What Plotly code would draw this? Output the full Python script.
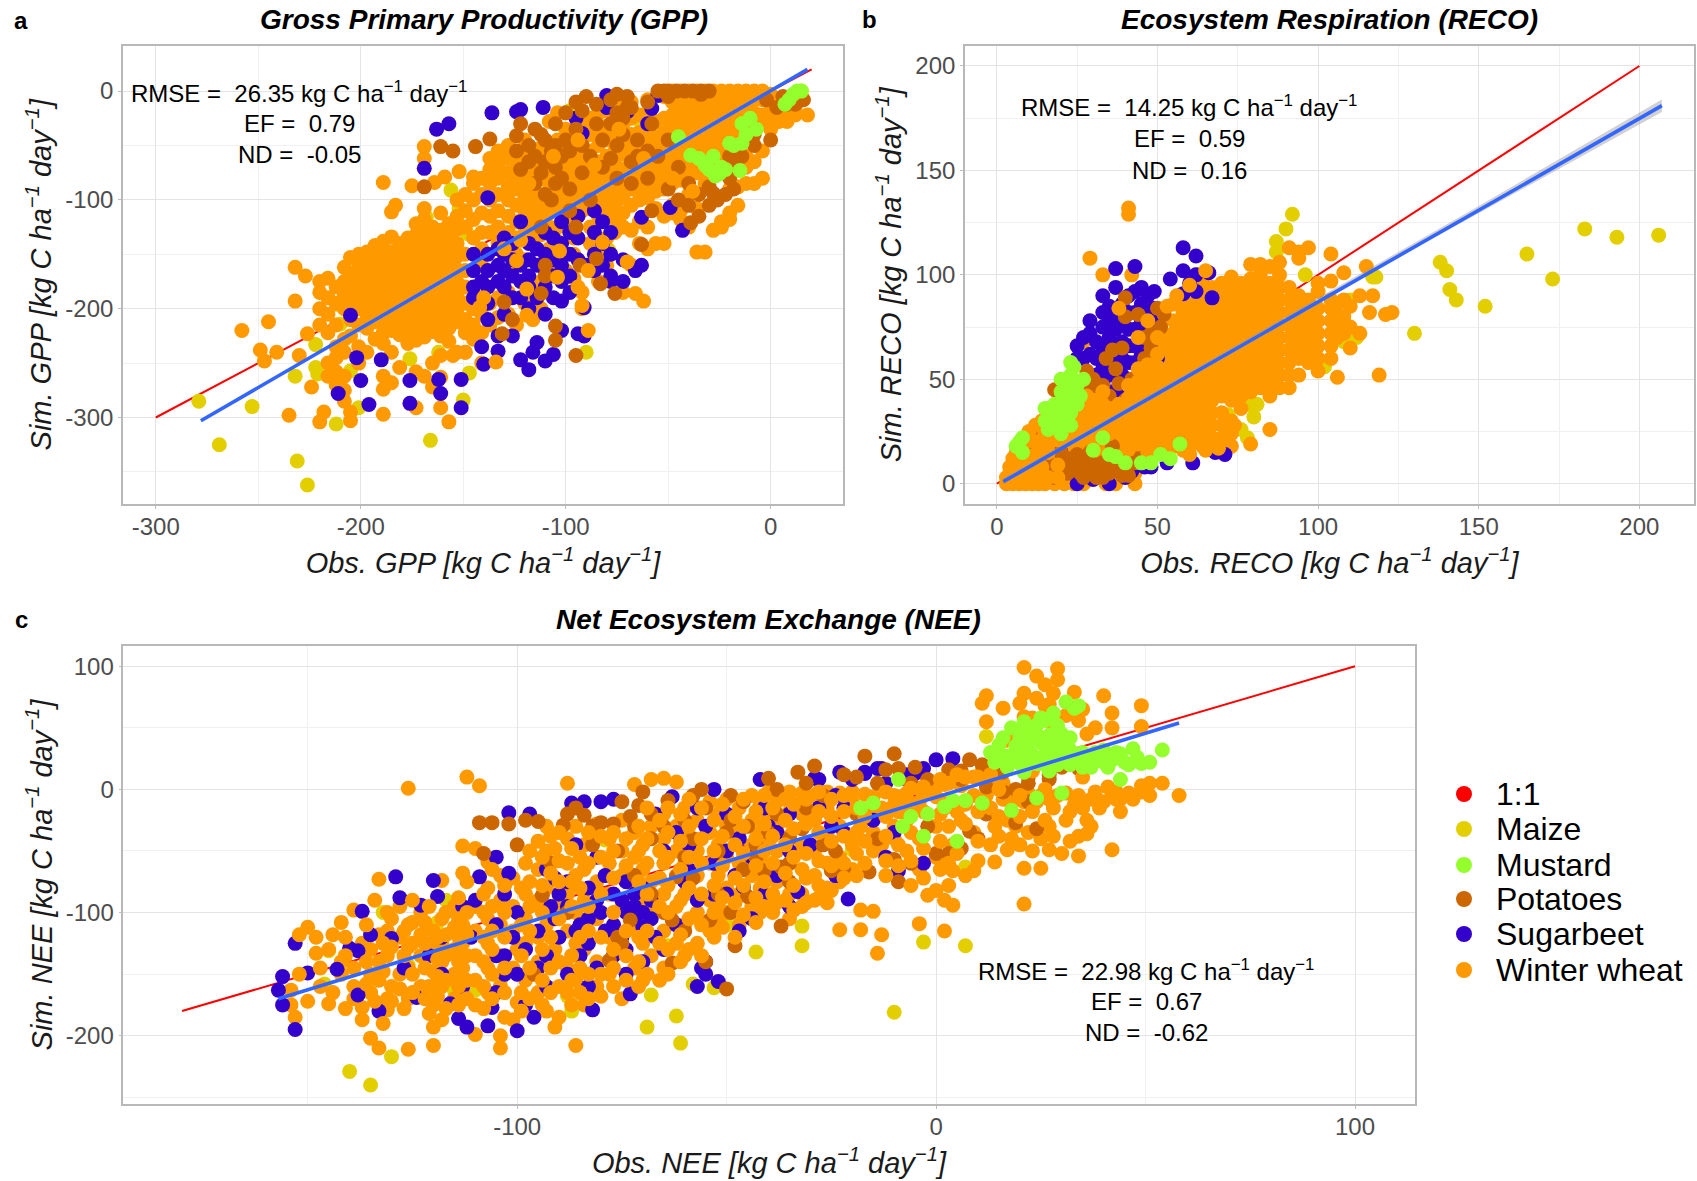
import plotly.graph_objects as go

W, H = 1697, 1181
FONT = "Liberation Sans"
COL = {"1:1": "#FF0000", "Maize": "#E3CF00", "Mustard": "#94FF2C", "Potatoes": "#CC6600",
       "Sugarbeet": "#3300CC", "Winter wheat": "#FF9900"}
LEGEND = ["1:1", "Maize", "Mustard", "Potatoes", "Sugarbeet", "Winter wheat"]

# ---------- Panel a: GPP, {obs: [sim, ...]} ----------
a_maize = {-279:[-285],-269:[-325],-253:[-290],-232:[-262],-231:[-340],-226:[-362],-222:[-233,-254],-221:[-260],-212:[-306,-196],-210:[-214],
           -205:[-257],-201:[-291],-197:[-163],-184:[-177],-176:[-246],-168:[-116],-166:[-321],-162:[-240],-156:[-91],-152:[-108],-150:[-284],
           -148:[-131],-147:[-259],-98:[-18],-90:[-240],-88:[-27],-79:[-146],-63:[-30],15:[0]}
a_mustard = {-45:[-42],-39:[-59],-35:[-62],-32:[-68],-30:[-72],-28:[-60],-27:[-78],-25:[-76],-24:[-70],-22:[-72],-20:[-48],-18:[-50],-15:[-73],-14:[-48,-30],-12:[-40],-10:[-25],-7:[-35],7:[-12],9:[-8],11:[-3],13:[0],15:[0]}
a_potatoes = {-169:[-88],-161:[-51],-155:[-55],-144:[-51],-137:[-44],-131:[-223],-130:[-194],-126:[-210],-124:[-41,-55],-122:[-30,-72],-118:[-50,-65],-115:[-35,-60,-85],-112:[-186,-40,-75,-125],
              -110:[-160,-170,-45,-65,-95],-107:[-55,-100],-105:[-216,-229,-30,-50,-70,-85],-102:[-60,-80],-100:[-20,-45],-98:[-55,-90,-110],-95:[-243,-10,-35,-125],-93:[-160],-92:[-18,-50,-75],-90:[-5],
              -88:[-60,-100],-85:[-154,-12,-30],-83:[-177],-82:[-45,-70],-78:[-8,-30,-62],-76:[-186],-75:[-3,-20,-50,-80],-72:[-25,-40],-70:[-5,-15],-68:[-15,-65,-85],-65:[-45,-60],-63:[-141],-60:[-10,-55,-80],
              -58:[-110,-30],-55:[0,-60],-52:[0],-50:[0,-5,-45,-90],-46:[0],-45:[-70,-100],-42:[0],-40:[-85,-105],-39:[-121],-38:[0],-35:[-95,-115],-34:[0,-3],-30:[0,-88,-105],-28:[-94],-26:[-100],-22:[-95],
              -20:[-60,-80],-18:[-90,-70],-14:[-60],-10:[-40],-8:[-40,-50],-2:[-8],0:[-45],3:[-15],6:[-5],8:[-12,-8],11:[-8],12:[-12],16:[-8]}
a_sugarbeet = {-211:[-278],-205:[-206],-202:[-245],-200:[-266],-196:[-288],-190:[-247],-176:[-266,-287],-169:[-71],-163:[-35],-162:[-265],-161:[-278],-157:[-30],
               -151:[-265,-291],-145:[-150,-165,-180,-190],-141:[-175,-235],-140:[-251],-138:[-98,-150,-165,-180,-195,-210],-136:[-20],-133:[-145,-160,-175,-225,-239],
               -130:[-135,-150,-165,-180,-205],-126:[-140,-155,-170,-190,-225],-124:[-19],-122:[-17,-120,-160,-175,-190,-247],-118:[-140,-155,-170,-180,-200,-256],-116:[-240],
               -114:[-145,-160,-190,-231],-111:[-15],-110:[-130,-150,-165,-180,-205,-248],-106:[-135,-155,-170,-190,-242],-102:[-120,-140,-160,-175,-193,-220],
               -98:[-130,-150,-170,-185],-95:[-25],-94:[-223,-115,-135,-155],-92:[-39],-91:[-199,-225],-90:[-160],-86:[-110,-130,-150,-165],-82:[-120,-140,-160],-80:[-4,-15],
               -78:[-130,-150,-170,-175],-72:[-155,-175],-70:[-19],-66:[-165],-63:[-160,-116],-60:[-30],-58:[-16],-55:[-4],-49:[-107],-43:[-128]}
a_wheat = {-258:[-220],-249:[-238],-247:[-248],-245:[-212],-241:[-240],-235:[-298],-232:[-162,-193],-230:[-243],-227:[-170],-226:[-223],-224:[-272],-220:[-175,-185,-200,-215,-304],
           -218:[-295],-216:[-172,-190,-205,-222,-250,-262],-212:[-180,-195,-215,-235,-245,-258,-270],-208:[-162,-175,-188,-200,-228,-240,-262,-275,-285],
           -205:[-153,-168,-182,-195,-210,-225,-295,-303],-201:[-150,-162,-175,-188,-200,-215,-235,-250],-197:[-148,-158,-170,-180,-192,-205,-218,-240],
           -193:[-142,-152,-165,-176,-188,-200,-212,-228],-189:[-84,-138,-150,-162,-174,-186,-198,-210,-222,-232,-262,-274,-297],-185:[-111,-134,-148,-160,-172,-184,-196,-208,-220,-240,-268],
           -183:[-105],-181:[-140,-152,-164,-176,-188,-200,-212,-224,-254],-177:[-135,-148,-160,-172,-184,-196,-208,-220,-232],-175:[-87],
           -173:[-122,-132,-145,-157,-169,-181,-193,-205,-217,-229,-258,-291],-169:[-51,-62,-108,-118,-130,-142,-154,-166,-178,-190,-202,-214,-226,-262],
           -165:[-125,-137,-149,-161,-173,-185,-197,-209,-221,-250,-272],-164:[-84],-161:[-112,-128,-140,-152,-164,-176,-188,-200,-212,-225,-243,-263,-291],-159:[-79],
           -157:[-122,-134,-146,-158,-170,-182,-194,-206,-218,-230,-304],-153:[-100,-115,-127,-140,-152,-164,-176,-188,-200,-212,-240],-152:[-74],
           -149:[-95,-110,-125,-150,-165,-180,-195,-210,-222,-240],-145:[-79,-85,-100,-118,-135,-200,-215,-228],-141:[-80,-95,-112,-130,-145,-160,-190,-205,-222,-250],
           -137:[-62,-72,-85,-100,-115,-130,-195,-215],-133:[-55,-68,-80,-95,-110,-125,-140,-190,-208],-128:[-50,-62,-75,-88,-100,-115,-130,-165,-185,-205],
           -124:[-65,-78,-90,-105,-120,-135,-150,-215],-120:[-45,-58,-72,-85,-98,-110,-125,-155,-175,-195],-116:[-75,-88,-100,-112,-122,-135,-185,-210],
           -112:[-52,-65,-80,-95,-108,-120,-132,-175,-200],-108:[-28,-60,-72,-85,-98,-112,-125,-145,-165],-104:[-20,-45,-58,-70,-82,-95,-108,-125,-138,-170],
           -100:[-35,-50,-65,-78,-90,-102,-115,-165],-96:[-40,-55,-68,-80,-92,-105,-118,-135,-150,-172],-92:[-30,-45,-60,-72,-85,-98,-110,-185,-200],
           -88:[-25,-40,-55,-70,-82,-95,-108,-125,-140],-84:[-20,-35,-50,-65,-78,-90,-102,-115,-150,-175],-80:[-18,-32,-45,-60,-72,-85,-98,-110,-135,-160],
           -76:[-28,-42,-55,-68,-80,-92,-105,-118,-130],-72:[-15,-30,-45,-58,-72,-85,-98,-112,-125,-185],-68:[-10,-25,-40,-52,-65,-78,-90,-105,-128,-160],
           -64:[-22,-38,-50,-62,-75,-88,-100,-120,-140],-60:[-8,-20,-35,-48,-60,-72,-85,-98,-125,-145],-56:[-28,-42,-55,-68,-80,-92,-108,-140],
           -52:[-5,-25,-38,-52,-65,-78,-90,-115,-140],-48:[0,-10,-22,-35,-48,-60,-72,-85,-105,-112],-44:[0,-8,-20,-32,-45,-58,-70,-82,-110,-118],
           -40:[0,-8,-18,-30,-42,-55,-65,-78,-95,-125],-36:[0,-8,-18,-28,-40,-52,-62,-75,-108,-148],-32:[0,-8,-18,-28,-38,-50,-60,-72,-85,-148],
           -28:[0,-8,-18,-28,-38,-48,-58,-70,-128],-24:[0,-8,-18,-28,-38,-48,-58,-120,-125],-20:[0,-8,-18,-28,-38,-50,-62,-90,-112,-118],-16:[0,-8,-18,-28,-40,-88,-105],
           -12:[0,-8,-18,-30,-60,-70,-85],-8:[0,-8,-20,-38,-65,-85],-4:[0,-8,-22,-30,-55,-80],0:[-3,-12,-25,-35],4:[-12,-22,-28],8:[-18,-22,-28],12:[-15,-22],18:[-22]}
a_wheat_top = {-155:[-243],-149:[-240],-142:[-199],-140:[-190],-134:[-249],-130:[-145],-124:[-156],-122:[-137],-119:[-182,-206],-104:[-171],-103:[-147],-94:[-180,-45],-92:[-197],-89:[-165,-220],
               -82:[-139],-70:[-157],-66:[-186],-62:[-193,-62],-118:[-85],-106:[-60],-86:[-68],-74:[-35],-48:[-80],-38:[-92]}

# ---------- Panel b: RECO ----------
b_maize = {60:[18],67:[19],72:[33],76:[26],78:[38,22],80:[32],81:[82,91,38],87:[116,111],90:[122],92:[129],96:[100],102:[56],108:[68],110:[88],112:[70],117:[99],118:[99],
           130:[72],138:[106],140:[102],141:[93],143:[88],152:[85],165:[110],173:[98],183:[122],193:[118],206:[119]}
b_mustard = {6:[18],7:[20],8:[15,22],15:[30,36],16:[26,36],17:[32],18:[28,38],19:[27],20:[32,24,44,50],21:[28,36],22:[46,40],23:[58,34,28,52],24:[44,56],25:[47,38],26:[42],27:[50],30:[16],33:[22],35:[14],
             37:[13],40:[10],45:[10],48:[10],51:[14],54:[12],57:[19]}
b_potatoes = {10:[20],11:[22],14:[12],15:[5],16:[10],18:[45,3],20:[8,15],22:[5],23:[12],24:[10],25:[8,14],26:[5,42],27:[3,10],28:[54,8,46],29:[15,5,10],30:[5,44,50],31:[48,3,9],32:[38,7],33:[47,10,3],
              34:[60],35:[5,12,42],36:[64,8,18],37:[55,8],38:[37,48],39:[65,4,10],40:[40,80,89],41:[4],42:[35,44,50],43:[10],44:[81],45:[20,13],46:[60,70],48:[28,55,65,72],50:[84],51:[75],52:[81]}
b_sugarbeet = {20:[15],25:[60,66,0],27:[60,70],29:[62,72,78],30:[2,45],31:[52,60,68],33:[55,65,75,82,90,42,48],35:[0,52,60,70,78,85],36:[44],37:[58,66,74,80,94,103],38:[44],39:[52,60,68,76,86],40:[3,46],
               41:[50,58,66,74,82,90],42:[6],43:[50,58,66,74,82,92,104],44:[40],45:[46,54,62,70,78,86,94],46:[8],47:[50,58,66,74,82,90],48:[8],49:[72,78,84,92],50:[60],53:[10],54:[98],
               58:[91,102,113],60:[96],61:[10],62:[92,100,109],66:[101],67:[89],68:[15],71:[14]}
b_wheat = {3:[0,3],5:[0,6,12],7:[0,5,10,16],9:[0,5,10,15,20],11:[0,5,10,16,24],13:[0,5,11,17,26],15:[0,6,12,18,24],18:[0,6,12,18,24],21:[0,5,12,18,24,30],
           24:[0,8,14,20,26,32,40],27:[0,14,20,26,32,38,68],29:[108],31:[12,18,24,30,36,42],33:[100],34:[0,16,22,28,34,40],37:[0,5,18,24,30,36,42],40:[14,20,26,32,38,44],
           41:[132,129],42:[100],43:[0,5,16,22,28,34,40,46],46:[12,18,24,30,36,42,48,54],49:[16,22,28,34,40,46,52,60,66],52:[16,22,28,34,40,46,52,58,64,70,82],
           55:[18,24,30,36,42,48,54,60,66,72,78,86],58:[16,22,28,34,40,46,52,58,64,70,76,82,88],61:[20,26,32,38,44,50,56,62,68,74,80,86],62:[100],
           64:[18,24,30,36,42,48,54,60,66,72,78,84,90,96],67:[22,28,34,40,46,52,58,64,70,76,82,88,94],70:[22,28,34,42,48,54,60,66,72,78,84,90,96],
           73:[18,24,30,40,46,52,58,64,70,76,82,88,94,99],76:[36,42,48,54,60,66,72,78,84,90,96],79:[19,44,50,56,62,68,74,80,86,92,98,105],
           82:[46,52,58,64,70,76,82,88,94,100,105],85:[26,42,48,54,60,66,72,78,84,90,96,104],88:[46,52,58,64,70,76,82,88,94,100,106],91:[46,52,58,64,70,76,82,88,94,113],
           94:[52,60,66,72,78,84,90,108,111],97:[58,64,70,76,82,88,113],100:[54,60,66,72,78,84,92,96],104:[60,66,72,78,84,88,97,110],106:[51,70,76,80,86],108:[72,80,88,101],
           110:[65,75,85],113:[72,90],115:[104],116:[82],117:[90],119:[52],121:[81],123:[82]}
b_wheat_top = {4:[2,8],6:[3,8,15],8:[3,8,13,18],10:[3,8,13,25],12:[3,8,14,20,28],14:[3,8,21,30],16:[3,15,21,27],19:[3,9,21],22:[21,33],25:[23,29,35],28:[24,30,36,42],30:[22,28,34,40],33:[26,32,38,44],
               35:[24,30,36],38:[26,32,38,84],41:[23,29,35,41,47],44:[19,25,31,37,43,49,55,70],47:[15,21,27,33,39,45,51,57,78],50:[20,26,32,38,44,50,56,62,70],53:[14,20,26,85],56:[22,90],60:[14,18,95],65:[16,102],69:[17,20],74:[28]}

# ---------- Panel c: NEE ----------
c_maize = {-146:[-158],-145:[-131],-140:[-229],-135:[-240],-132:[-100],-130:[-217],-126:[-143],-119:[-108],-117:[-90],-115:[-163],-110:[-163],-104:[-155],-93:[-62],-90:[-87],
           -88:[-168],-87:[-180],-81:[-166],-79:[-41],-70:[-148],-69:[-193],-68:[-167],-64:[-127],-62:[-184],-61:[-206],-58:[-158],-53:[-161],-50:[-110],-43:[-132],
           -32:[-111,-127],-20:[-49],-10:[-181],-3:[-124],7:[-63,-127],12:[43]}
c_mustard = {-18:[-15],-15:[-11],-9:[8],-8:[-30],-6:[-22],-3:[-38],-2:[-20],2:[-14],4:[-9],5:[-42],7:[-9],11:[-11],13:[30],14:[22],15:[28,36],16:[42],17:[27,18],18:[-17,50],19:[35,25],20:[21,42,30],21:[48,55,14],22:[32,40,20],23:[48,28],
             24:[45,21,-7,52],25:[21,38,58],26:[56,35,28],27:[44,15],28:[45,27,38,62],29:[20,52],30:[35,-3,25,45],31:[71,28],32:[32,20,42],33:[66],34:[68,25],35:[18,30],36:[22],37:[27,18],38:[30],39:[24],40:[22,32],41:[28,18],42:[24],
             43:[30],44:[29,8],45:[22],46:[20],47:[33],48:[26],49:[21],51:[22],54:[32]}
c_potatoes = {-109:[-27],-108:[-52],-106:[-27],-102:[-28],-100:[-45],-98:[-25],-96:[-150],-95:[-26],-94:[-86],-92:[-60],-89:[-29],-88:[-20,-100],-86:[-15],-84:[-21],-82:[-45,-30],-80:[-27],-78:[-139],-77:[-28],-76:[-50,-120],-75:[-10,-125],
              -73:[-22,-106],-72:[-30,-70],-71:[-13],-70:[-2],-68:[-20,-40,-85],-65:[-30,-100],-64:[-9],-63:[-106,-141],-62:[-71],-60:[-25,-55,-115],-58:[-72,-5,-40],-56:[0],-55:[-140,-15],-54:[-106],-52:[-50,-85],-50:[-162,-35],
              -49:[-5,-100,-25],-48:[-127],-46:[-10,-65],-45:[-87,-30],-43:[-45,-55],-41:[-66],-40:[9,-35],-38:[0,-20],-37:[-111,-63],-35:[-40,-60,-75],-33:[14],-32:[-32],-31:[5,-15],-29:[19],-27:[-5,-45],-25:[-66],-24:[-50],
              -22:[-66,12],-19:[10,-20],-17:[27],-16:[-67],-14:[5,-40],-12:[16],-10:[29,-57],-9:[17,-75],-6:[5,-60],-5:[18],-2:[8,-30],0:[-52],3:[-52,-10,16],6:[-48,8,15],8:[24,-34],10:[-40],11:[20],12:[2,-20],15:[20],16:[14,-2],
              19:[0,-27],22:[10,5,-10],24:[-32],27:[8,12],30:[18],34:[17]}
c_sugarbeet = {-157:[-163],-156:[-152,-175],-153:[-125,-195],-150:[-149],-143:[-146],-140:[-129],-138:[-131,-167],-137:[-99],-135:[-118],-133:[-180],-130:[-121],-129:[-71],-128:[-88],-127:[-145],-124:[-169],
               -123:[-94],-121:[-135],-120:[-74],-119:[-87],-118:[-150,-120],-116:[-174],-114:[-186],-113:[-95,-160],-112:[-193],-111:[-120],-110:[-90],-109:[-71],-107:[-192],-106:[-177],-105:[-55,-110,-135,-165],-103:[-85,-135,-150],
               -102:[-68,-19],-101:[-120],-100:[-196,-100,-150],-98:[-130,-175],-97:[-20],-96:[-185],-95:[-115,-145],-93:[-65,-135,-160],-92:[-95],-91:[-72,-105],-90:[-85,-120],-88:[-75,-95,-150],-87:[-11],-86:[-45,-115],-85:[-110,-135],-84:[-10],
               -83:[-80,-105,-125,-160],-82:[-179],-81:[-55,-90,-145],-80:[-10,-100],-79:[-70,-115],-77:[-8,-85,-110,-135],-75:[-90,-120],-74:[-75,-100,-130,-150],-73:[-166],-72:[-85,-95,-105],-70:[-80,-100,-112,-140],-68:[-90,-105],
               -67:[-20,-120],-65:[-50,-130],-63:[-6],-62:[-35,-110],-60:[-75],-59:[-45,-65],-57:[-160,-15,-90],-56:[-145],-55:[-140,-150,-30],-53:[0,-60,-85],-52:[-156],-50:[-50,-20,-85],-48:[-70],-47:[-40,-115],-46:[-79],-44:[-55,-105],
               -42:[8],-41:[-15,-85],-40:[-30],-38:[-70,-35],-35:[-20,-50,-95],-33:[-83],-30:[-45],-29:[9],-28:[8,-15],-25:[-30],-24:[-5,-70],-23:[14],-22:[-35,-15],-21:[-89],-20:[8],-17:[14,13],-15:[-25],-14:[17],-13:[17],-12:[5,-55],
               -10:[-35],-9:[-66],-8:[9],-7:[12],-5:[13],-3:[17,-60],0:[24],4:[25]}
c_wheat = {-154:[-163,-175],-153:[-185],-150:[-112,-172],-148:[-120,-133],-145:[-130,-174],-142:[-108,-140,-150],-139:[-98,-145,-160,-170],-137:[-125,-177,-187],-135:[-130,-150,-165,-202],
           -133:[-73,-118,-140,-155,-210],-131:[-100,-115,-135,-170,-179],-128:[-95,-120,-150,-162],-126:[1,-110,-128,-145,-170,-211],-123:[-100,-118,-135,-160],
           -120:[-115,-130,-148,-175,-193,-208],-118:[-74,-105,-125,-140,-160,-187],-115:[-95,-112,-130,-150,-170],-113:[-46,-68,-110,-125,-145,-165],-110:[-48,-95,-115,-135,-155,-175,-199],
           -109:[3],-107:[-59,-80,-105,-125,-145,-165],-104:[-70,-90,-110,-135,-160,-200,-210],-112:[10],-101:[-72,-95,-115,-145,-187],-100:[-130,-173],-98:[-60,-85,-105,-125,-155],
           -95:[-42,-65,-90,-120,-140,-165],-93:[-30,-50,-80,-110,-180],-91:[-48,-95,-130,-193],-88:[5,-40,-60,-85,-115,-145,-165],-86:[-30,-70,-100,-125,-155,-208],
           -84:[-45,-65,-90,-130,-175],-81:[-28,-75,-105,-140,-160],-78:[-40,-60,-85,-120,-150],-75:[-25,-50,-70,-95,-130,-170],-72:[4,-35,-55,-80,-110,-145],-70:[-45,-65,-90,-125,-155],
           -68:[8,-30,-75,-100,-135],-65:[9,-20,-40,-60,-85,-115,-145],-62:[6,-30,-50,-70,-95,-125],-60:[-15,-40,-60,-85,-110,-135],-57:[-25,-50,-70,-100,-125],-54:[-10,-35,-60,-90,-115],
           -52:[-20,-45,-70,-95,-105],-50:[-8,-30,-55,-80,-100],-47:[-15,-35,-60,-85,-110],-44:[-5,-25,-45,-70,-95],-42:[-12,-35,-55,-80,-100],-40:[-2,-22,-42,-65,-90],
           -38:[-10,-30,-50,-75,-92],-35:[-2,-18,-38,-60,-85,-105],-32:[-3,-20,-45,-65,-85,-95],-29:[-5,-25,-50,-70,-90],-26:[-2,-15,-40,-60,-80,-92],-23:[-3,-30,-55,-75,-114],
           -20:[-2,-10,-45,-65],-18:[-30,-98,-114],-15:[-6,-20,-35,-50,-99],-14:[-133],-13:[-15,-45,-118],-10:[-5,-12,-30,-40],-7:[-3,-8,-25,-50],-4:[1,-10,-40,-65,-109],-2:[-3,-86],
           0:[2,-6,-30,-55,-82],2:[4,-15,-90,-115],4:[8,-45,-66,-94],6:[3,-25],9:[10,-5,-35,-66],11:[70,15,-10],12:[76,55,-5],14:[10,-30,-59],16:[66,5,-8],17:[40,-25,-49],19:[-2,-8,-30],
           21:[99,78,59,-10,-64,-93],22:[-3,-35],24:[92,74,-10],25:[-5,-40,-64],27:[69,-8,-30,-49],29:[98,89,-5],30:[40,-52],31:[60,-3,-25],33:[79,-12],34:[56,-5,-38,-54],36:[45,-25,-36],
           38:[50,-2],40:[76,-10],42:[62,50,-5,-49],44:[-8,-18],46:[-3],49:[68,51,3,-2],54:[5],58:[-5]}
c_wheat_top = {-152:[-118,-150],-147:[-145,-160],-144:[-118,-165],-141:[-120,-135,-178],-136:[-110,-140,-158],-134:[-90,-172],-132:[-125,-148,-190],-130:[-105,-128,-160,-172],-127:[-115,-135,-178],-125:[-90,-108,-125,-150,-165],
               -122:[-108,-125,-145,-170],-121:[-95,-160,-182],-119:[-120,-138,-152,-168],-117:[-100,-118,-135,-155,-178],-114:[-88,-105,-120,-140,-160,-175],-112:[-75,-100,-118,-135,-155,-170],-108:[-85,-100,-120,-140,-160,-178],
               -106:[-65,-95,-115,-130,-150,-170],-103:[-78,-100,-120,-145,-165,-185],-99:[-80,-110,-135,-165,-180],-97:[-50,-75,-95,-115,-145,-170],-94:[-55,-78,-100,-130,-155,-175],-92:[-38,-68,-120,-145,-165],
               -90:[-35,-58,-75,-105,-140,-160,-185],-87:[-48,-75,-95,-135,-155,-175],-85:[-55,-80,-120,-145,-165],-83:[-35,-60,-95,-115,-150,-170],-80:[-38,-55,-85,-120,-150,-168],-77:[-35,-50,-72,-100,-130,-145,-160],
               -74:[-40,-62,-115,-135,-155],-71:[-30,-50,-75,-120,-140,-160],-69:[-15,-40,-60,-85,-115,-150],-66:[-25,-50,-72,-95,-125,-155],-64:[-15,-35,-55,-78,-100,-130,-150],-61:[-20,-42,-65,-90,-118,-140],-59:[-8,-30,-55,-80,-105,-130],
               -56:[-15,-40,-60,-85,-110,-135],-53:[-25,-50,-78,-100,-120],-51:[-12,-38,-62,-88,-112],-48:[-22,-45,-72,-92,-120],-46:[-8,-30,-52,-78,-102],-43:[-18,-40,-62,-88,-108],-41:[-5,-28,-50,-75,-95],-39:[-15,-38,-60,-85,-100],
               -36:[-8,-25,-45,-68,-90],-34:[-12,-32,-55,-78,-98],-31:[-8,-28,-52,-72,-92],-28:[-2,-18,-35,-58,-78,-88],-25:[-8,-22,-42,-62,-82],-22:[-5,-18,-38,-60,-72],-19:[-15,-35,-52,-70],-17:[-4,-22,-42,-60],-12:[-2,-22,-38,-58,-70],
               -9:[-6,-18,-45,-62],-6:[1,-15,-35,-58,-78],-3:[2,-18,-48,-72],1:[8,-20,-42,-65],3:[5,-8,-30,-60,-78],5:[12,-18,-52],7:[10,-12,-28,-70],10:[10,-18,-42,-58],13:[12,-15,-45],15:[0,-22,-38],18:[45,-12,-40],20:[70,-5,-22,-45],
               23:[58,15,-18,-50],26:[85,68,0,-25],28:[78,52,-15,-38],32:[62,-18,-42],35:[65,10,-15],37:[-8,-30],39:[-15],41:[2],43:[-2,-8],47:[-8],51:[5,-5]}

LINE_A_X, LINE_A_Y = [-278, 18], [-303, 20]
ONE_A = [-300, 20]
LINE_B_X, LINE_B_Y = [2, 207], [1, 181]
RIB_B_X = [2, 50, 100, 150, 207, 207, 150, 100, 50, 2]
RIB_B_Y = [2.5, 44.8, 89, 133, 184, 178, 129.5, 87.4, 43.4, 0]
ONE_B = [0, 200]
LINE_C_X, LINE_C_Y = [-157, 58], [-170, 54]
ONE_C = [-180, 100]

STATS = {"a": ["RMSE =  26.35 kg C ha<sup>−1</sup> day<sup>−1</sup>", "EF =  0.79", "ND =  -0.05"],
         "b": ["RMSE =  14.25 kg C ha<sup>−1</sup> day<sup>−1</sup>", "EF =  0.59", "ND =  0.16"],
         "c": ["RMSE =  22.98 kg C ha<sup>−1</sup> day<sup>−1</sup>", "EF =  0.67", "ND =  -0.62"]}

def flat(d):
    xs, ys = [], []
    for k, v in d.items():
        for y in v:
            xs.append(k); ys.append(y)
    return xs, ys

PANELS = [
    dict(id="", box=(123, 45.5, 843, 504), xr=(-316, 35.3), yr=(-379.5, 41.9),
         xt=[-300, -200, -100, 0], xm=[-250, -150, -50], yt=[-300, -200, -100, 0], ym=[-350, -250, -150, -50],
         xtitle="Obs. GPP", ytitle="Sim. GPP"),
    dict(id="2", box=(965, 45.5, 1694, 504), xr=(-9.9, 217), yr=(-9.7, 209.8),
         xt=[0, 50, 100, 150, 200], xm=[25, 75, 125, 175], yt=[0, 50, 100, 150, 200], ym=[25, 75, 125, 175],
         xtitle="Obs. RECO", ytitle="Sim. RECO"),
    dict(id="3", box=(123.4, 645.7, 1414.5, 1104.3), xr=(-194, 114.2), yr=(-255.7, 116.7),
         xt=[-100, 0, 100], xm=[-150, -50, 50], yt=[-200, -100, 0, 100], ym=[-250, -150, -50, 50],
         xtitle="Obs. NEE", ytitle="Sim. NEE"),
]
UNITS = " [kg C ha<sup>−1</sup> day<sup>−1</sup>]"

fig = go.Figure()
layers = [
    ("Maize", a_maize, b_maize, c_maize),
    ("Winter wheat", a_wheat, b_wheat, c_wheat),
    ("Sugarbeet", a_sugarbeet, b_sugarbeet, c_sugarbeet),
    ("Potatoes", a_potatoes, b_potatoes, c_potatoes),
    ("Winter wheat", a_wheat_top, b_wheat_top, c_wheat_top),
    ("Mustard", a_mustard, b_mustard, c_mustard),
]
LINES = [(ONE_A, ONE_A, LINE_A_X, LINE_A_Y), (ONE_B, ONE_B, LINE_B_X, LINE_B_Y), (ONE_C, ONE_C, LINE_C_X, LINE_C_Y)]

for i, p in enumerate(PANELS):
    xa, ya = "x" + p["id"], "y" + p["id"]
    r = LINES[i]
    fig.add_trace(go.Scatter(x=r[0], y=r[1], mode="lines", name="1:1", line=dict(color=COL["1:1"], width=2),
                             xaxis=xa, yaxis=ya, showlegend=False))
    for name, *dd in layers:
        xs, ys = flat(dd[i])
        fig.add_trace(go.Scatter(x=xs, y=ys, mode="markers", name=name, marker=dict(color=COL[name], size=15, line=dict(width=0)),
                                 xaxis=xa, yaxis=ya, showlegend=False))
    if i == 1:
        fig.add_trace(go.Scatter(x=RIB_B_X, y=RIB_B_Y, mode="lines", fill="toself", fillcolor="rgba(153,153,153,0.45)",
                                 line=dict(width=0), xaxis=xa, yaxis=ya, showlegend=False))
    fig.add_trace(go.Scatter(x=r[2], y=r[3], mode="lines", line=dict(color="#3366FF", width=3.6),
                             xaxis=xa, yaxis=ya, showlegend=False))
    l, t, rt, b = p["box"]
    axis_common = dict(showline=True, mirror=True, linecolor="#B8B8B8", linewidth=1.6, zeroline=False,
                       gridcolor="#E4E4E4", gridwidth=1.3, ticks="outside", ticklen=3, tickcolor="#BDBDBD", tickwidth=1.2,
                       tickfont=dict(family=FONT, size=24, color="#4D4D4D"))
    fig.layout["xaxis" + p["id"]] = dict(
        axis_common, domain=[l / W, rt / W], range=list(p["xr"]), anchor=ya, tickmode="array", tickvals=p["xt"], ticklabelstandoff=-3,
        ticktext=[str(v) for v in p["xt"]], minor=dict(tickvals=p["xm"], showgrid=True, gridcolor="#F0F0F0", gridwidth=0.9, ticks=""),
        title=dict(text=p["xtitle"] + UNITS, font=dict(family=FONT, size=29, color="#1a1a1a", style="italic"), standoff=14))
    fig.layout["yaxis" + p["id"]] = dict(
        axis_common, domain=[1 - b / H, 1 - t / H], range=list(p["yr"]), anchor=xa, tickmode="array", tickvals=p["yt"],
        ticktext=[str(v) for v in p["yt"]], minor=dict(tickvals=p["ym"], showgrid=True, gridcolor="#F0F0F0", gridwidth=0.9, ticks=""),
        title=dict(text=p["ytitle"] + UNITS, font=dict(family=FONT, size=29, color="#1a1a1a", style="italic"), standoff=5))

def px(x, y, text, size, **kw):
    return dict(xref="paper", yref="paper", x=x / W, y=1 - y / H, text=text, showarrow=False,
                xanchor=kw.pop("xanchor", "center"), yanchor="middle", font=dict(family=FONT, size=size, color="black"))

ann = [
    px(484, 19.5, "<b><i>Gross Primary Productivity (GPP)</i></b>", 28),
    px(1329, 19.5, "<b><i>Ecosystem Respiration (RECO)</i></b>", 28),
    px(768, 619, "<b><i>Net Ecosystem Exchange (NEE)</i></b>", 28),
    px(21, 21, "<b>a</b>", 24), px(869, 20, "<b>b</b>", 24), px(21, 619, "<b>c</b>", 24),
]
for key, cx, ys in (("a", 299, (92, 123, 155)), ("b", 1189, (106, 138.5, 170)), ("c", 1146, (970, 1001, 1032))):
    for line, y in zip(STATS[key], ys):
        ann.append(px(cx, y, line, 24))

# Legend key, laid out by hand because the reference's row pitch is tighter than its text size
LEG_X, LEG_TXT, LEG_R = 1464, 1494, 8
LEG_ROWS = [794, 829, 865, 899, 934, 970]
shapes = []
for name, y in zip(LEGEND, LEG_ROWS):
    ann.append(px(LEG_TXT, y, name, 32, xanchor="left"))
    shapes.append(dict(type="circle", xref="paper", yref="paper", x0=(LEG_X - LEG_R) / W, x1=(LEG_X + LEG_R) / W,
                       y0=1 - (y + LEG_R) / H, y1=1 - (y - LEG_R) / H, fillcolor=COL[name], line=dict(width=0)))

fig.update_layout(
    width=W, height=H, margin=dict(l=0, r=0, t=0, b=0), paper_bgcolor="white", plot_bgcolor="white",
    font=dict(family=FONT), annotations=ann, shapes=shapes, showlegend=False,
)
fig.write_html("out.html", post_script="document.body.style.margin='0';", config={"displayModeBar": False})
